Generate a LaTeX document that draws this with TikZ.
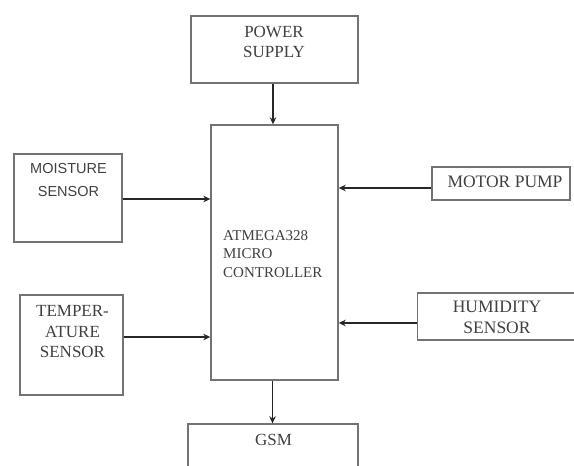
\documentclass[tikz,border=0pt]{standalone}
\usepackage{fontspec}
\setmainfont{Liberation Serif}
\newfontfamily\sansf{Liberation Sans}
\usetikzlibrary{arrows.meta}
\begin{document}
\begin{tikzpicture}[x=1pt,y=-1pt,
  blk/.style={draw=black!55,line width=1.4pt,inner sep=0pt},
  lbl/.style={inner sep=0pt,align=center,font=\fontsize{17}{20.5}\selectfont,text=black!75},
  arr/.style={draw=black!85,line width=1.5pt,-{Stealth[length=7pt,width=6.5pt]}}]
\useasboundingbox (0,0) rectangle (574,466);
% boxes
\node[blk,minimum width=167pt,minimum height=67pt] (ps) at (274.5,49.5) {};
\node[blk,minimum width=127pt,minimum height=255pt] (mcu) at (274.5,252.5) {};
\node[blk,minimum width=108pt,minimum height=88pt] (ms) at (68,198) {};
\node[blk,minimum width=103pt,minimum height=100pt] (ts) at (71.5,345) {};
\node[blk,minimum width=138pt,minimum height=33pt] (mp) at (501,183.5) {};
\node[blk,minimum width=163pt,minimum height=47pt] (hs) at (499,316.5) {};
\node[blk,minimum width=170pt,minimum height=70pt] (gsm) at (273,459) {};
% texts
\node[lbl] (pst) at (274,42) {POWER\\SUPPLY};
\node[lbl,font=\sansf\fontsize{14.5}{23}\selectfont] (mst) at (68.5,180.5) {MOISTURE\\SENSOR};
\node[lbl] (tst) at (72.5,332) {TEMPER-\\ATURE\\SENSOR};
\node[lbl,font=\fontsize{17.5}{21}\selectfont] (mpt) at (505,182) {MOTOR PUMP};
\node[lbl,font=\fontsize{17.5}{21}\selectfont] (hst) at (497,317.5) {HUMIDITY\\SENSOR};
\node[lbl] (gst) at (273.5,440) {GSM};
\node[lbl,anchor=west,align=left,font=\fontsize{15}{18.5}\selectfont] (mct) at (223,254) {ATMEGA328\\MICRO\\CONTROLLER};
% connectors
\draw[arr] ([xshift=-1.5pt]ps.south) -- ([xshift=-1.5pt]mcu.north);
\draw[arr] ([yshift=-1pt]ms.east) -- ([yshift=-1pt]ms.east -| mcu.west);
\draw[arr] ([yshift=8pt]ts.east) -- ([yshift=8pt]ts.east -| mcu.west);
\draw[arr] ([yshift=-4.5pt]mp.west) -- ([yshift=-4.5pt]mp.west -| mcu.east);
\draw[arr] ([yshift=-6.5pt]hs.west) -- ([yshift=-6.5pt]hs.west -| mcu.east);
\draw[arr] ([xshift=-2pt]mcu.south) -- ([xshift=-2pt]mcu.south |- gsm.north);
\end{tikzpicture}
\end{document}
